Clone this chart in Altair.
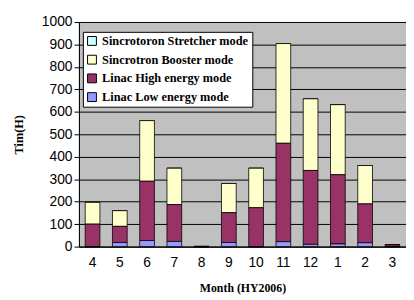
import altair as alt
import pandas as pd

months = ["4", "5", "6", "7", "8", "9", "10", "11", "12", "1", "2", "3"]
series = ["Sincrotoron Stretcher mode", "Sincrotron Booster mode",
          "Linac High energy mode", "Linac Low energy mode"]
colors = ["#CCFFFF", "#FFFFCC", "#993366", "#9999FF"]

stretcher = [0, 0, 0, 0, 2, 0, 0, 0, 0, 0, 0, 0]
booster = [97, 70, 270, 162, 0, 130, 176, 444, 319, 312, 171, 0]
linac_high = [100, 72, 264, 164, 0, 133, 173, 438, 329, 308, 173, 8]
linac_low = [0, 18, 27, 23, 0, 18, 0, 22, 10, 12, 17, 0]

values = [stretcher, booster, linac_high, linac_low]
stack_order = [3, 2, 1, 0]

rows = []
for s, vals, o in zip(series, values, stack_order):
    for m, v in zip(months, vals):
        rows.append({"Month": m, "Series": s, "Hours": v, "ord": o})
df = pd.DataFrame(rows)

chart = alt.Chart(df).mark_bar(stroke="black", strokeWidth=0.8).encode(
    x=alt.X("Month:N", sort=months,
            scale=alt.Scale(paddingInner=0.46, paddingOuter=0.23),
            axis=alt.Axis(title="Month (HY2006)", labelAngle=0, ticks=False,
                          labelFont="Liberation Sans", labelFontSize=14,
                          labelColor="black", labelPadding=9,
                          titleFont="Liberation Serif", titleFontSize=12,
                          titleFontWeight="bold", titleColor="black",
                          titlePadding=14, domainColor="black")),
    y=alt.Y("Hours:Q", stack="zero",
            scale=alt.Scale(domain=[0, 1000], nice=False),
            axis=alt.Axis(title="Tim(H)", values=list(range(0, 1001, 100)),
                          format="d",
                          labelFont="Liberation Sans", labelFontSize=14,
                          labelColor="black", labelPadding=2, tickSize=5,
                          tickColor="black", domainColor="black",
                          gridColor="black", gridWidth=1,
                          titleFont="Liberation Serif", titleFontSize=12.5,
                          titleFontWeight="bold", titleColor="black",
                          titlePadding=16)),
    color=alt.Color("Series:N", scale=alt.Scale(domain=series, range=colors),
                    legend=alt.Legend(title=None, orient="none", legendX=4, legendY=10,
                                      fillColor="white", strokeColor="black",
                                      padding=3, symbolType="square", symbolSize=81,
                                      symbolStrokeColor="black", symbolStrokeWidth=1,
                                      labelFont="Liberation Serif", labelFontSize=12.5,
                                      labelFontWeight="bold", labelColor="black",
                                      rowPadding=5, labelLimit=300)),
    order=alt.Order("ord:Q", sort="ascending"),
).properties(
    width=332, height=228,
    padding={"left": 72, "top": 12, "right": 0, "bottom": 52},
    autosize=alt.AutoSizeParams(type="none"),
).configure_view(fill="#C0C0C0", stroke="#808080")

chart.save("out.html", embed_options={"renderer": "svg", "actions": False})
